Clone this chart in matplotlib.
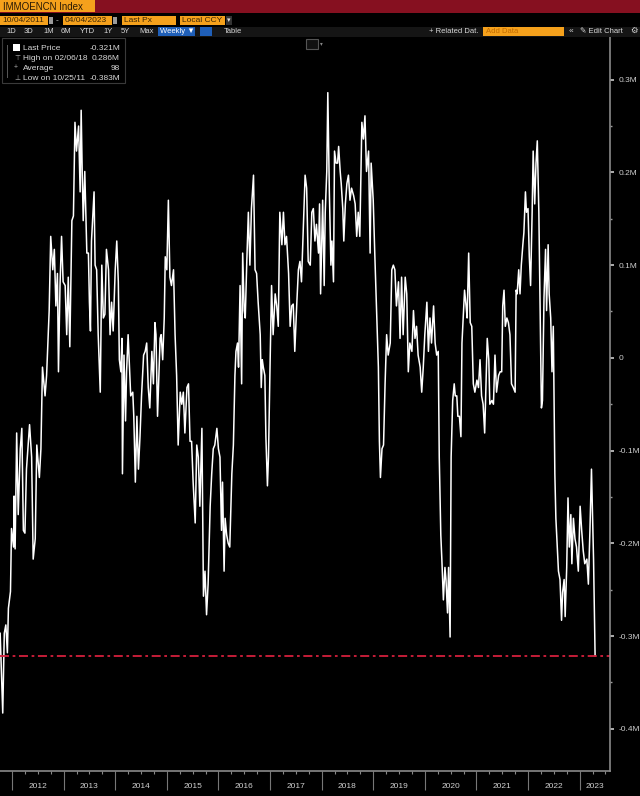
import matplotlib
matplotlib.use('Agg')
from matplotlib import pyplot as plt
from matplotlib.patches import Rectangle
from matplotlib.transforms import blended_transform_factory

# weekly series, x in decimal years, y in millions
years = [
    2011.77, 2011.82, 2011.85, 2011.88, 2011.91, 2011.93, 2011.97, 2011.99, 2012.03, 2012.04,
    2012.06, 2012.09, 2012.12, 2012.16, 2012.19, 2012.22, 2012.25, 2012.28, 2012.34, 2012.38,
    2012.41, 2012.45, 2012.48, 2012.53, 2012.56, 2012.59, 2012.64, 2012.67, 2012.72, 2012.75,
    2012.79, 2012.82, 2012.85, 2012.88, 2012.90, 2012.93, 2012.96, 2012.99, 2013.03, 2013.06,
    2013.09, 2013.12, 2013.16, 2013.19, 2013.22, 2013.25, 2013.29, 2013.32, 2013.34, 2013.36,
    2013.38, 2013.41, 2013.45, 2013.48, 2013.50, 2013.52, 2013.54, 2013.59, 2013.61, 2013.64,
    2013.67, 2013.71,
    2013.74, 2013.77, 2013.80, 2013.83, 2013.87, 2013.90, 2013.93, 2013.96, 2014.00, 2014.03,
    2014.06, 2014.08, 2014.11, 2014.13, 2014.14, 2014.17, 2014.20, 2014.22, 2014.25, 2014.27,
    2014.30, 2014.34, 2014.36, 2014.39, 2014.42, 2014.45, 2014.48, 2014.51, 2014.55, 2014.58,
    2014.61, 2014.64, 2014.67, 2014.71, 2014.74, 2014.77, 2014.79, 2014.82, 2014.84, 2014.87,
    2014.89, 2014.92, 2014.95, 2014.97, 2015.00, 2015.03, 2015.06, 2015.09, 2015.13, 2015.16,
    2015.19, 2015.22, 2015.26, 2015.29, 2015.32, 2015.35, 2015.39, 2015.42, 2015.45, 2015.48,
    2015.51, 2015.55, 2015.58, 2015.61, 2015.64, 2015.68, 2015.71, 2015.74, 2015.77, 2015.80,
    2015.84,
    2015.87, 2015.90, 2015.93, 2015.97, 2016.00, 2016.03, 2016.06, 2016.08, 2016.11, 2016.13,
    2016.16, 2016.19, 2016.22, 2016.26, 2016.29, 2016.32, 2016.34, 2016.37, 2016.39, 2016.42,
    2016.45, 2016.47, 2016.50, 2016.52, 2016.55, 2016.58, 2016.61, 2016.64, 2016.68, 2016.71,
    2016.74, 2016.77, 2016.81, 2016.83, 2016.85, 2016.87, 2016.90, 2016.92, 2016.95, 2016.97,
    2017.00, 2017.03, 2017.06, 2017.10, 2017.13, 2017.16, 2017.19, 2017.23, 2017.26, 2017.29,
    2017.32, 2017.36, 2017.39, 2017.42, 2017.45, 2017.48, 2017.52, 2017.55, 2017.58, 2017.61,
    2017.65, 2017.68, 2017.71, 2017.74,
    2017.78, 2017.81, 2017.84, 2017.87, 2017.90, 2017.94, 2017.96, 2017.98, 2018.00, 2018.02,
    2018.05, 2018.07, 2018.10, 2018.12, 2018.15, 2018.18, 2018.20, 2018.23, 2018.25, 2018.28,
    2018.31, 2018.33, 2018.36, 2018.38, 2018.41, 2018.43, 2018.46, 2018.49, 2018.52, 2018.55,
    2018.58, 2018.62, 2018.65, 2018.68, 2018.71, 2018.74, 2018.78, 2018.81, 2018.84, 2018.87,
    2018.91, 2018.94, 2018.96, 2019.00, 2019.03, 2019.07, 2019.10, 2019.12, 2019.14, 2019.17,
    2019.20, 2019.23, 2019.26, 2019.29, 2019.33, 2019.36, 2019.39, 2019.42, 2019.45, 2019.49,
    2019.52,
    2019.55, 2019.58, 2019.62, 2019.65, 2019.68, 2019.71, 2019.75, 2019.78, 2019.81, 2019.84,
    2019.87, 2019.91, 2019.94, 2019.97, 2020.00, 2020.04, 2020.07, 2020.10, 2020.13, 2020.17,
    2020.20, 2020.23, 2020.26, 2020.28, 2020.31, 2020.33, 2020.36, 2020.39, 2020.41, 2020.44,
    2020.46, 2020.49, 2020.51, 2020.54, 2020.57, 2020.59, 2020.62, 2020.64, 2020.67, 2020.70,
    2020.72, 2020.75, 2020.77, 2020.80, 2020.82, 2020.85, 2020.88, 2020.91, 2020.94, 2020.97,
    2021.01, 2021.04, 2021.07, 2021.10, 2021.13, 2021.16, 2021.19, 2021.21, 2021.24, 2021.26,
    2021.30, 2021.33, 2021.36, 2021.39, 2021.43, 2021.46,
    2021.49, 2021.51, 2021.535, 2021.56, 2021.59, 2021.62, 2021.65, 2021.68, 2021.715, 2021.75,
    2021.77, 2021.79, 2021.82, 2021.845, 2021.87, 2021.90, 2021.92, 2021.95, 2021.97, 2022.00,
    2022.025, 2022.05, 2022.08, 2022.10, 2022.13, 2022.155, 2022.18, 2022.21, 2022.23, 2022.26,
    2022.28, 2022.31, 2022.34, 2022.36, 2022.39, 2022.41, 2022.44, 2022.465, 2022.49, 2022.52,
    2022.54, 2022.57, 2022.59, 2022.62, 2022.65, 2022.67, 2022.70, 2022.72, 2022.75, 2022.775,
    2022.80, 2022.83, 2022.85, 2022.88, 2022.91, 2022.94, 2022.975, 2023.01, 2023.04, 2023.07,
    2023.10, 2023.14, 2023.17, 2023.20, 2023.23, 2023.27, 2023.30,
]
values = [
    -0.297, -0.383, -0.297, -0.288, -0.318, -0.270, -0.252, -0.184, -0.204, -0.149,
    -0.206, -0.081, -0.169, -0.098, -0.076, -0.186, -0.189, -0.120, -0.072, -0.107,
    -0.217, -0.195, -0.094, -0.129, -0.098, -0.010, -0.041, -0.019, 0.051, 0.131,
    0.095, 0.117, 0.056, 0.091, -0.015, 0.078, 0.131, 0.082, 0.078, 0.025,
    0.087, 0.012, 0.148, 0.153, 0.254, 0.223, 0.250, 0.179, 0.267, 0.201,
    0.148, 0.201, 0.113, 0.113, 0.060, 0.029, 0.126, 0.179, 0.100, 0.095,
    0.025, -0.037,
    0.100, 0.043, 0.047, 0.117, 0.095, 0.025, 0.060, 0.029, 0.095, 0.126,
    0.082, -0.002, -0.015, 0.021, -0.125, 0.003, -0.068, -0.015, 0.025, -0.002,
    -0.041, -0.037, -0.063, -0.134, -0.063, -0.120, -0.085, -0.041, 0.003, 0.007,
    0.016, -0.032, -0.054, 0.007, -0.028, 0.038, 0.025, -0.063, -0.028, 0.021,
    0.025, -0.002, 0.043, 0.109, 0.095, 0.170, 0.087, 0.078, 0.095, 0.025,
    -0.019, -0.094, -0.037, -0.050, -0.037, -0.081, -0.032, -0.028, -0.090, -0.090,
    -0.134, -0.178, -0.094, -0.107, -0.160, -0.076, -0.257, -0.230, -0.277, -0.244,
    -0.160,
    -0.125, -0.098, -0.094, -0.076, -0.098, -0.107, -0.186, -0.134, -0.230, -0.173,
    -0.191, -0.200, -0.204, -0.125, -0.094, -0.019, 0.007, 0.016, -0.010, 0.078,
    -0.028, 0.113, 0.051, 0.043, 0.104, 0.157, 0.100, 0.161, 0.197, 0.095,
    0.091, 0.060, 0.025, -0.032, -0.002, -0.010, -0.019, -0.085, -0.138, -0.107,
    -0.010, 0.078, 0.025, 0.069, 0.056, 0.034, 0.157, 0.122, 0.157, 0.122,
    0.131, 0.091, 0.034, 0.056, 0.058, 0.007, 0.060, 0.095, 0.104, 0.082,
    0.148, 0.197, 0.183, 0.104,
    0.100, 0.157, 0.161, 0.126, 0.144, 0.113, 0.166, 0.069, 0.122, 0.170,
    0.078, 0.157, 0.201, 0.286, 0.179, 0.100, 0.126, 0.082, 0.223, 0.210,
    0.210, 0.228, 0.201, 0.188, 0.161, 0.126, 0.166, 0.188, 0.197, 0.170,
    0.183, 0.175, 0.166, 0.131, 0.157, 0.131, 0.254, 0.236, 0.261, 0.201,
    0.223, 0.113, 0.210, 0.170, 0.113, 0.043, -0.010, -0.090, -0.129, -0.098,
    -0.094, -0.028, 0.025, 0.003, 0.016, 0.095, 0.100, 0.095, 0.056, 0.082,
    0.021,
    0.087, 0.025, 0.087, 0.069, -0.015, 0.016, 0.007, 0.051, 0.021, 0.034,
    0.003, -0.010, -0.037, -0.010, 0.025, 0.060, 0.007, 0.043, 0.016, 0.056,
    0.016, 0.003, 0.007, -0.107, -0.191, -0.217, -0.261, -0.226, -0.239, -0.275,
    -0.226, -0.301, -0.107, -0.046, -0.028, -0.041, -0.041, -0.063, -0.063, -0.085,
    0.016, 0.051, 0.073, 0.056, 0.043, 0.113, 0.038, 0.034, -0.028, -0.037,
    -0.024, -0.032, -0.002, -0.041, -0.050, -0.081, -0.019, 0.021, -0.002, -0.050,
    -0.046, -0.050, 0.003, -0.037, -0.019, -0.015,
    -0.015, 0.056, 0.073, 0.034, 0.043, 0.038, 0.025, -0.028, -0.032, -0.037,
    0.073, 0.069, 0.095, 0.069, 0.100, 0.122, 0.135, 0.179, 0.157, 0.161,
    0.109, 0.078, 0.157, 0.223, 0.166, 0.210, 0.234, 0.157, 0.069, -0.054,
    -0.046, 0.065, 0.117, 0.051, 0.122, 0.069, 0.043, -0.015, 0.034, -0.125,
    -0.173, -0.208, -0.230, -0.239, -0.283, -0.253, -0.239, -0.279, -0.226, -0.151,
    -0.204, -0.169, -0.222, -0.173, -0.195, -0.204, -0.230, -0.160, -0.186, -0.208,
    -0.222, -0.217, -0.244, -0.186, -0.120, -0.217, -0.321,
]

last_price = -0.321
y_ticks = [-0.4, -0.3, -0.2, -0.1, 0.0, 0.1, 0.2, 0.3]
year_labels = list(range(2012, 2024))
legend_rows = [('Last Price', '-0.321M'), ('High on 02/06/18', '0.286M'),
               ('Average', '98'), ('Low on 10/25/11', '-0.383M')]
range_buttons = [('1D', 6), ('3D', 24), ('1M', 43), ('6M', 61), ('YTD', 80),
                 ('1Y', 103), ('5Y', 121), ('Max', 139)]

W, H = 640, 796
FONT = ['Liberation Sans Narrow', 'Liberation Sans', 'DejaVu Sans']
plt.rcParams['font.family'] = FONT

fig = plt.figure(figsize=(W / 100, H / 100), dpi=100, facecolor='black')


def box(x, y, w, h, color, edge='none'):
    # x, y in pixels from the top-left corner
    fig.add_artist(Rectangle((x / W, 1 - (y + h) / H), w / W, h / H,
                             transform=fig.transFigure, facecolor=color,
                             edgecolor=edge, lw=0.8))


def label(x, y, s, size=6, color='#d8d8d8', ha='left'):
    fig.text(x / W, 1 - y / H, s, fontsize=size, color=color, ha=ha, va='center')


# header bars
box(0, 0, W, 13, '#861020')
box(0, 0, 95, 12, '#f5a11c')
label(3, 6.5, 'IMMOENCN Index', size=7, color='#2a1a05')
box(0, 13, W, 14, 'black')
box(0, 16, 48, 9, '#f5a11c')
label(2, 20.5, '10/04/2011', color='#3a2505')
box(49, 17, 4, 7, '#9a9a9a')
label(56, 20.5, '-', color='#cccccc')
box(63, 16, 49, 9, '#f5a11c')
label(65, 20.5, '04/04/2023', color='#3a2505')
box(113, 17, 4, 7, '#9a9a9a')
box(122, 16, 54, 9, '#f5a11c')
label(124, 20.5, 'Last Px', color='#3a2505')
box(180, 16, 45, 9, '#f5a11c')
label(182, 20.5, 'Local CCY', color='#3a2505')
box(226, 16, 6, 9, '#333333')
label(227, 20.5, '▾', size=5, color='#dddddd')

box(0, 27, W, 10, '#151515')
for txt, xx in range_buttons:
    label(xx, 31.5, txt, size=5.5)
box(158, 27, 37, 9, '#1f5fb8')
label(160, 31.5, 'Weekly ▼', size=5.5, color='white')
box(200, 27, 12, 9, '#1f5fb8')
label(224, 31.5, 'Table', size=5.5)
label(429, 31.5, '+ Related Dat.', size=5.5)
box(483, 27, 81, 9, '#f5a11c')
label(486, 31.5, 'Add Data', size=5.5, color='#c06a00')
label(569, 31.5, '«', size=6)
label(580, 31.5, '✎ Edit Chart', size=5.5)
label(630, 31.5, '⚙', size=6)

# chart
ax = fig.add_axes([0, 25 / H, 610 / W, 734 / H])
ax.set_facecolor('black')
ax.plot(years, values, color='white', lw=1.1)
ax.axhline(last_price, color='#d4203c', lw=1.3, linestyle=(0, (5, 2, 1.5, 2)))
ax.set_xlim(2011.767, 2023.589)
ax.set_ylim(-0.4455, 0.346)

ax.yaxis.tick_right()
ax.set_yticks(y_ticks)
ax.set_yticklabels(['0' if t == 0 else f'{t:.1f}M' for t in y_ticks])
ax.set_yticks([t + 0.05 for t in y_ticks[:-1]], minor=True)
ax.tick_params(axis='y', which='major', direction='out', length=3, width=1.3,
               color='#bbbbbb', labelcolor='#cfcfcf', labelsize=6, pad=3)
ax.tick_params(axis='y', which='minor', direction='out', length=1.5, width=1,
               color='#999999')

ax.set_xticks(year_labels)
ax.set_xticklabels([])
ax.set_xticks([y + q / 4 for y in range(2011, 2024) for q in (1, 2, 3)
               if 2011.767 < y + q / 4 < 2023.589], minor=True)
ax.tick_params(axis='x', which='major', direction='out', length=14, width=0.8,
               color='#777777')
ax.tick_params(axis='x', which='minor', direction='out', length=2, width=0.8,
               color='#888888')
trans = blended_transform_factory(ax.transData, ax.transAxes)
for yr in year_labels:
    mid = (yr + min(yr + 1, 2023.589)) / 2
    ax.text(mid, -16 / 734, str(yr), transform=trans, ha='center', va='center',
            fontsize=6, color='#cfcfcf')

for side in ('top', 'left'):
    ax.spines[side].set_visible(False)
for side in ('bottom', 'right'):
    ax.spines[side].set_color('#8a8a8a')
    ax.spines[side].set_linewidth(1.2)

# legend box top-left
box(2, 38, 123, 45, 'black', edge='#3a3a3a')
box(13, 44, 7, 7, 'white')
symbols = ['', '⊤', '+', '⊥']
for i, (name, val) in enumerate(legend_rows):
    yy = 48 + i * 10
    if symbols[i]:
        label(14, yy, symbols[i], size=5, color='#aaaaaa')
    label(23, yy, name, size=6)
    label(120, yy, val, size=6, ha='right')
box(7, 45, 1, 33, '#555555')

# small chart-type button
box(306, 39, 12, 10, '#111111', edge='#555555')
label(320, 44, '▾', size=4, color='#888888')

fig.savefig('out.png', dpi=100, facecolor='black')
